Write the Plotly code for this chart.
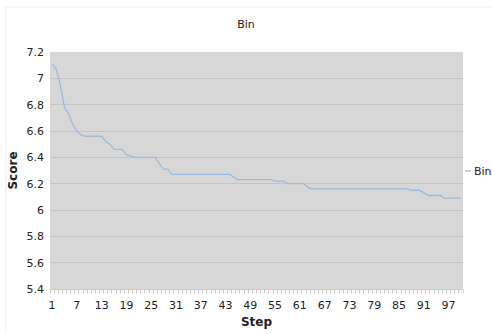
import plotly.graph_objects as go

steps = list(range(1, 101))
scores = (
    [7.11, 7.07, 6.95, 6.78, 6.73, 6.65, 6.60, 6.57, 6.56]
    + [6.56] * 4          # 10-13
    + [6.52, 6.50, 6.46, 6.46, 6.46]   # 14-18
    + [6.42, 6.41]        # 19-20
    + [6.40] * 6          # 21-26
    + [6.35, 6.31, 6.31]  # 27-29
    + [6.27] * 15         # 30-44
    + [6.25]              # 45
    + [6.23] * 9          # 46-54
    + [6.22] * 3          # 55-57
    + [6.20] * 5          # 58-62
    + [6.17]              # 63
    + [6.16] * 24         # 64-87
    + [6.15] * 3          # 88-90
    + [6.13]              # 91
    + [6.11] * 4          # 92-95
    + [6.09] * 5          # 96-100
)
x_ticks = list(range(1, 101, 6))
series_name = "Bin"
chart_title = "Bin"

W, H = 492, 334
L, R, T, B = 50, 463, 52, 289

fig = go.Figure()
fig.add_trace(go.Scatter(x=steps, y=scores, mode="lines", name=series_name,
                         line=dict(color="#9bbade", width=1.3), showlegend=False))

font = "DejaVu Sans, Verdana, sans-serif"

def px(xp):
    return (xp - L) / (R - L)

def py(yp):
    return (B - yp) / (B - T)

fig.update_layout(
    width=W, height=H,
    margin=dict(l=L, r=W - R, t=T, b=H - B, autoexpand=False),
    paper_bgcolor="white",
    plot_bgcolor="#d7d7d7",
    title=dict(text=chart_title, x=0.5, xanchor="center", y=1 - 24 / H, yanchor="middle",
               font=dict(family=font, size=11, color="#222")),
    xaxis=dict(range=[0.5, 100.5], tickvals=x_ticks, showgrid=False, zeroline=False,
               showline=True, linecolor="#c8c8c8", linewidth=1, automargin=False,
               ticks="", ticklabelstandoff=6, tickfont=dict(family=font, size=11, color="#222"),
               minor=dict(ticks="outside", ticklen=3, tickcolor="#c8c8c8", dtick=1, tick0=0.5, showgrid=False),
               title=dict(text="<b>Step</b>", font=dict(family=font, size=12, color="#222"), standoff=6)),
    yaxis=dict(range=[5.4, 7.2], dtick=0.2, tick0=5.4, showgrid=True, gridcolor="#c3c3c3", gridwidth=1,
               zeroline=False, showline=False, ticks="", ticklabelstandoff=5, automargin=False,
               tickfont=dict(family=font, size=11, color="#222"),
               title=dict(text="<b>Score</b>", font=dict(family=font, size=12, color="#222"), standoff=6)),
    font=dict(family=font),
)

# legend drawn as shape + text
fig.add_shape(type="line", xref="paper", yref="paper",
              x0=px(465), x1=px(471), y0=py(171), y1=py(171),
              line=dict(color="#9bbade", width=1.3))
fig.add_annotation(text=series_name, xref="paper", yref="paper", x=px(472), y=py(171),
                   xanchor="left", yanchor="middle", showarrow=False,
                   font=dict(family=font, size=11, color="#222"))
# faint outer chart border
fig.add_shape(type="rect", xref="paper", yref="paper",
              x0=px(6), x1=px(498), y0=py(340), y1=py(7),
              line=dict(color="#ececec", width=1), layer="below")

fig.write_html("out.html", config={"displayModeBar": False},
               post_script="document.body.style.margin='0';document.body.style.overflow='hidden';")
